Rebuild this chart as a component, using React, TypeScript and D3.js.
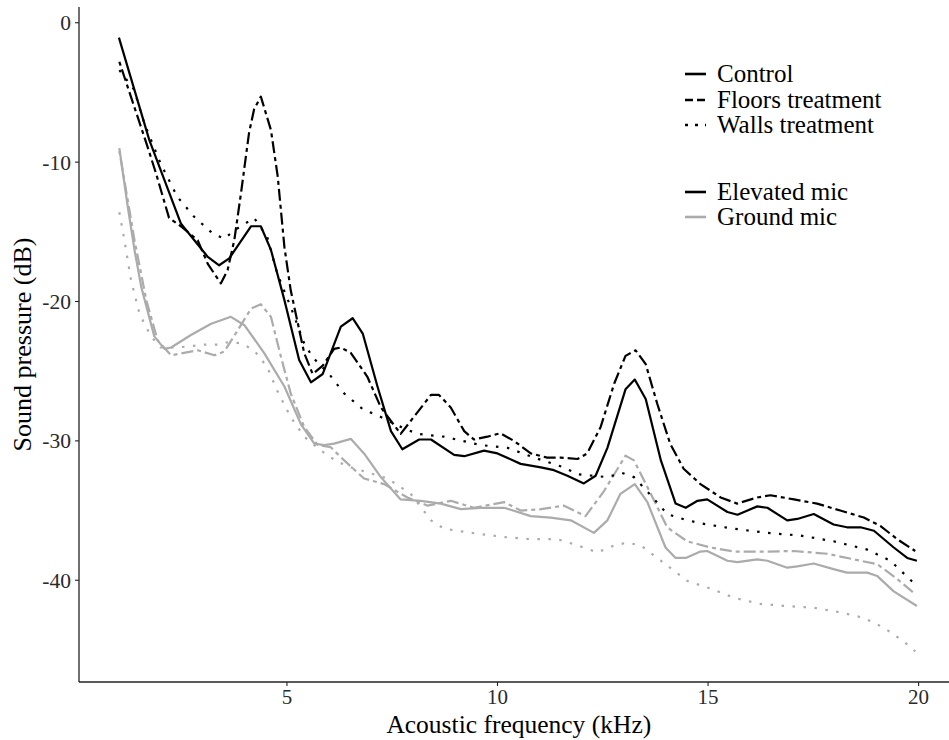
import React from "react";
import * as d3 from "d3";

// ---- data (frequency kHz, sound pressure dB) ----
const elevControlF = [1.01, 1.73, 2.48, 3.12, 3.39, 3.63, 4.15, 4.38, 4.62, 4.94, 5.29, 5.57, 5.85, 6.28, 6.56, 6.8, 7.15, 7.47, 7.74, 8.14, 8.42, 8.97, 9.21, 9.68, 10.0, 10.55, 11.03, 11.34, 11.66, 12.05, 12.33, 12.61, 13.04, 13.26, 13.52, 13.88, 14.23, 14.47, 14.75, 14.98, 15.46, 15.7, 16.17, 16.41, 16.88, 17.12, 17.51, 17.98, 18.3, 18.62, 18.94, 19.41, 19.73, 19.96];
const elevControlV = [-1.07, -8.4, -14.4, -16.8, -17.4, -16.9, -14.6, -14.6, -16.3, -19.9, -24.2, -25.8, -25.2, -21.8, -21.2, -22.3, -26.1, -29.3, -30.6, -29.9, -29.9, -31.0, -31.1, -30.7, -30.9, -31.65, -31.9, -32.1, -32.5, -33.05, -32.5, -30.5, -26.3, -25.6, -27.0, -31.4, -34.5, -34.8, -34.3, -34.2, -35.1, -35.3, -34.7, -34.8, -35.7, -35.6, -35.25, -36.0, -36.2, -36.2, -36.45, -37.65, -38.4, -38.6];

const elevFloorsF = [1.02, 1.69, 1.89, 2.2, 2.48, 2.88, 3.12, 3.43, 3.59, 3.75, 3.91, 4.1, 4.22, 4.38, 4.62, 4.78, 4.94, 5.09, 5.41, 5.61, 5.85, 6.12, 6.28, 6.52, 6.91, 7.23, 7.7, 8.06, 8.42, 8.61, 8.89, 9.21, 9.44, 9.76, 10.07, 10.39, 10.79, 11.18, 11.5, 11.9, 12.13, 12.45, 12.77, 13.04, 13.28, 13.52, 13.79, 14.1, 14.42, 14.82, 15.3, 15.69, 16.17, 16.48, 17.04, 17.59, 18.14, 18.7, 19.09, 19.49, 19.92];
const elevFloorsV = [-2.8, -8.9, -10.8, -14.0, -14.6, -15.6, -17.3, -18.7, -17.75, -15.6, -12.2, -7.9, -6.2, -5.3, -7.7, -11.0, -16.1, -19.2, -23.7, -25.2, -24.6, -23.4, -23.3, -23.7, -25.4, -27.6, -29.5, -28.1, -26.7, -26.7, -27.6, -29.3, -29.9, -29.7, -29.45, -30.0, -30.9, -31.2, -31.2, -31.3, -30.9, -29.0, -25.9, -23.9, -23.5, -24.5, -27.3, -30.2, -32.0, -33.1, -34.06, -34.5, -34.06, -33.9, -34.2, -34.5, -35.0, -35.5, -36.1, -37.05, -37.9];

const elevWallsF = [1.02, 1.37, 1.61, 2.0, 2.4, 2.79, 3.23, 3.51, 3.75, 4.22, 4.53, 4.77, 5.09, 5.41, 5.61, 6.0, 6.36, 6.83, 7.11, 7.63, 8.1, 8.73, 9.6, 10.24, 10.87, 11.58, 11.9, 12.61, 12.96, 13.24, 13.64, 14.03, 14.51, 14.98, 15.61, 16.41, 17.2, 17.98, 18.78, 19.33, 19.92];
const elevWallsV = [-3.4, -4.8, -7.2, -10.1, -12.5, -13.9, -15.1, -15.5, -14.9, -14.0, -15.35, -18.0, -20.4, -23.0, -24.0, -25.2, -26.6, -27.8, -28.1, -28.9, -29.5, -29.7, -30.3, -30.5, -31.2, -31.9, -32.4, -32.6, -32.3, -32.6, -33.9, -35.25, -35.7, -36.0, -36.3, -36.6, -36.8, -37.2, -37.8, -38.6, -40.3];

const groundControlF = [1.02, 1.22, 1.38, 1.54, 1.85, 2.09, 2.25, 2.72, 3.2, 3.67, 3.99, 4.46, 4.94, 5.33, 5.65, 5.89, 6.12, 6.52, 6.83, 7.23, 7.7, 8.18, 8.65, 9.13, 9.6, 10.16, 10.79, 11.26, 11.74, 12.29, 12.61, 12.92, 13.26, 13.56, 13.99, 14.23, 14.47, 14.82, 14.98, 15.46, 15.7, 16.17, 16.41, 16.88, 17.12, 17.51, 17.98, 18.3, 18.78, 19.02, 19.41, 19.96];
const groundControlV = [-9.0, -13.2, -16.3, -18.95, -22.5, -23.4, -23.3, -22.4, -21.6, -21.1, -21.7, -23.7, -26.1, -28.8, -30.2, -30.3, -30.2, -29.86, -30.9, -32.6, -34.2, -34.3, -34.5, -34.9, -34.8, -34.8, -35.4, -35.5, -35.7, -36.6, -35.7, -33.8, -33.1, -34.4, -37.65, -38.4, -38.4, -37.94, -37.9, -38.6, -38.7, -38.5, -38.6, -39.1, -39.0, -38.8, -39.2, -39.45, -39.45, -39.7, -40.8, -41.85];

const groundFloorsF = [1.02, 1.38, 1.66, 1.93, 2.25, 2.88, 3.28, 3.51, 3.83, 4.15, 4.38, 4.62, 4.86, 5.09, 5.41, 5.73, 6.04, 6.36, 6.83, 7.31, 7.86, 8.34, 8.89, 9.44, 10.16, 10.55, 11.03, 11.58, 12.09, 12.53, 13.04, 13.24, 13.64, 14.03, 14.5, 15.06, 15.61, 16.41, 17.04, 17.83, 18.46, 19.02, 19.49, 19.92];
const groundFloorsV = [-9.2, -15.6, -19.9, -22.8, -23.86, -23.5, -23.86, -23.6, -22.07, -20.5, -20.2, -21.1, -24.0, -26.6, -29.0, -30.3, -30.46, -31.4, -32.7, -33.1, -34.06, -34.65, -34.3, -34.8, -34.4, -35.0, -34.9, -34.65, -35.4, -33.6, -31.06, -31.4, -33.8, -36.2, -37.2, -37.65, -37.94, -37.94, -37.9, -38.1, -38.5, -38.85, -39.9, -41.0];

const groundWallsF = [1.02, 1.14, 1.3, 1.5, 1.77, 2.0, 2.4, 3.03, 3.35, 3.63, 3.91, 4.22, 4.53, 4.77, 5.09, 5.41, 5.81, 6.2, 6.52, 7.39, 7.94, 8.42, 8.73, 9.37, 10.16, 10.79, 11.42, 11.9, 12.37, 12.77, 13.08, 13.4, 13.88, 14.51, 15.06, 15.61, 16.24, 16.88, 17.51, 18.14, 18.7, 19.17, 19.65, 19.92];
const groundWallsV = [-13.6, -15.6, -18.5, -20.9, -22.5, -23.3, -23.3, -23.1, -23.1, -22.9, -23.0, -23.5, -24.7, -26.4, -28.3, -29.7, -30.7, -31.5, -31.9, -32.7, -33.8, -35.7, -36.3, -36.6, -36.9, -37.05, -37.05, -37.5, -38.0, -37.5, -37.3, -37.5, -38.6, -40.05, -40.6, -41.25, -41.7, -41.85, -41.97, -42.3, -42.7, -43.4, -44.4, -45.1];

const xTicks = [5, 10, 15, 20];
const yTicks = [0, -10, -20, -30, -40];
const treatmentLabels = ["Control", "Floors treatment", "Walls treatment"];
const micLabels = ["Elevated mic", "Ground mic"];

const BLACK = "#000000";
const GRAY = "#ababab";
const DASH = "4,4,12,4";
const DOT = "2.5,8.5";

const series = [
  { f: groundWallsF, v: groundWallsV, color: GRAY, dash: DOT },
  { f: groundFloorsF, v: groundFloorsV, color: GRAY, dash: DASH },
  { f: groundControlF, v: groundControlV, color: GRAY, dash: null },
  { f: elevWallsF, v: elevWallsV, color: BLACK, dash: DOT },
  { f: elevFloorsF, v: elevFloorsV, color: BLACK, dash: DASH },
  { f: elevControlF, v: elevControlV, color: BLACK, dash: null },
];

const FONT = "'Liberation Serif', 'Times New Roman', serif";

export default function App() {
  const W = 949, H = 740;
  const x = d3.scaleLinear().domain([0.05, 20.95]).range([78.5, 958.6]);
  const y = d3.scaleLinear().domain([-47.3, 1.13]).range([682, 7]);
  const line = d3
    .line<[number, number]>()
    .x((d) => x(d[0]))
    .y((d) => y(d[1]));

  const left = 79;
  const bottom = 682;

  const legendRowsT = [74, 100, 125];
  const legendRowsM = [192, 217];
  const tDash = [null, "8,4", "3,7"];

  return (
    <svg
      width={W}
      height={H}
      style={{ position: "absolute", left: 0, top: 0, background: "#fff" }}
      fontFamily={FONT}
    >
      <rect x={0} y={0} width={W} height={H} fill="#fff" />
      {series.map((s, i) => (
        <path
          key={i}
          d={line(s.f.map((f, j) => [f, s.v[j]] as [number, number])) || ""}
          fill="none"
          stroke={s.color}
          strokeWidth={2.2}
          strokeDasharray={s.dash || undefined}
          strokeLinejoin="round"
        />
      ))}
      {/* axes */}
      <line x1={left} x2={left} y1={7} y2={bottom} stroke="#222" strokeWidth={1.3} />
      <line x1={left} x2={W} y1={bottom} y2={bottom} stroke="#222" strokeWidth={1.3} />
      {yTicks.map((t) => (
        <g key={t}>
          <line x1={left - 4} x2={left} y1={y(t)} y2={y(t)} stroke="#222" strokeWidth={1.1} />
          <text x={left - 8} y={y(t)} dy="0.35em" textAnchor="end" fontSize={21.5} fill="#2a2a2a">
            {t === 0 ? "0" : "-" + Math.abs(t)}
          </text>
        </g>
      ))}
      {xTicks.map((t) => (
        <g key={t}>
          <line x1={x(t)} x2={x(t)} y1={bottom} y2={bottom + 4} stroke="#222" strokeWidth={1.1} />
          <text x={x(t)} y={bottom + 22} textAnchor="middle" fontSize={21} fill="#2a2a2a">
            {t}
          </text>
        </g>
      ))}
      <text x={(left + 958.6) / 2} y={733} textAnchor="middle" fontSize={25.5} fill="#000">
        Acoustic frequency (kHz)
      </text>
      <text
        transform={`translate(31, ${(7 + bottom) / 2}) rotate(-90)`}
        textAnchor="middle"
        fontSize={26}
        fill="#000"
      >
        Sound pressure (dB)
      </text>
      {/* legend */}
      {treatmentLabels.map((lab, i) => (
        <g key={lab}>
          <line
            x1={685}
            x2={706}
            y1={legendRowsT[i]}
            y2={legendRowsT[i]}
            stroke={BLACK}
            strokeWidth={2.6}
            strokeDasharray={tDash[i] || undefined}
          />
          <text x={717} y={legendRowsT[i]} dy="0.33em" fontSize={25} fill="#000">
            {lab}
          </text>
        </g>
      ))}
      {micLabels.map((lab, i) => (
        <g key={lab}>
          <line
            x1={685}
            x2={706}
            y1={legendRowsM[i]}
            y2={legendRowsM[i]}
            stroke={i === 0 ? BLACK : GRAY}
            strokeWidth={2.6}
          />
          <text x={717} y={legendRowsM[i]} dy="0.33em" fontSize={25} fill="#000">
            {lab}
          </text>
        </g>
      ))}
    </svg>
  );
}
